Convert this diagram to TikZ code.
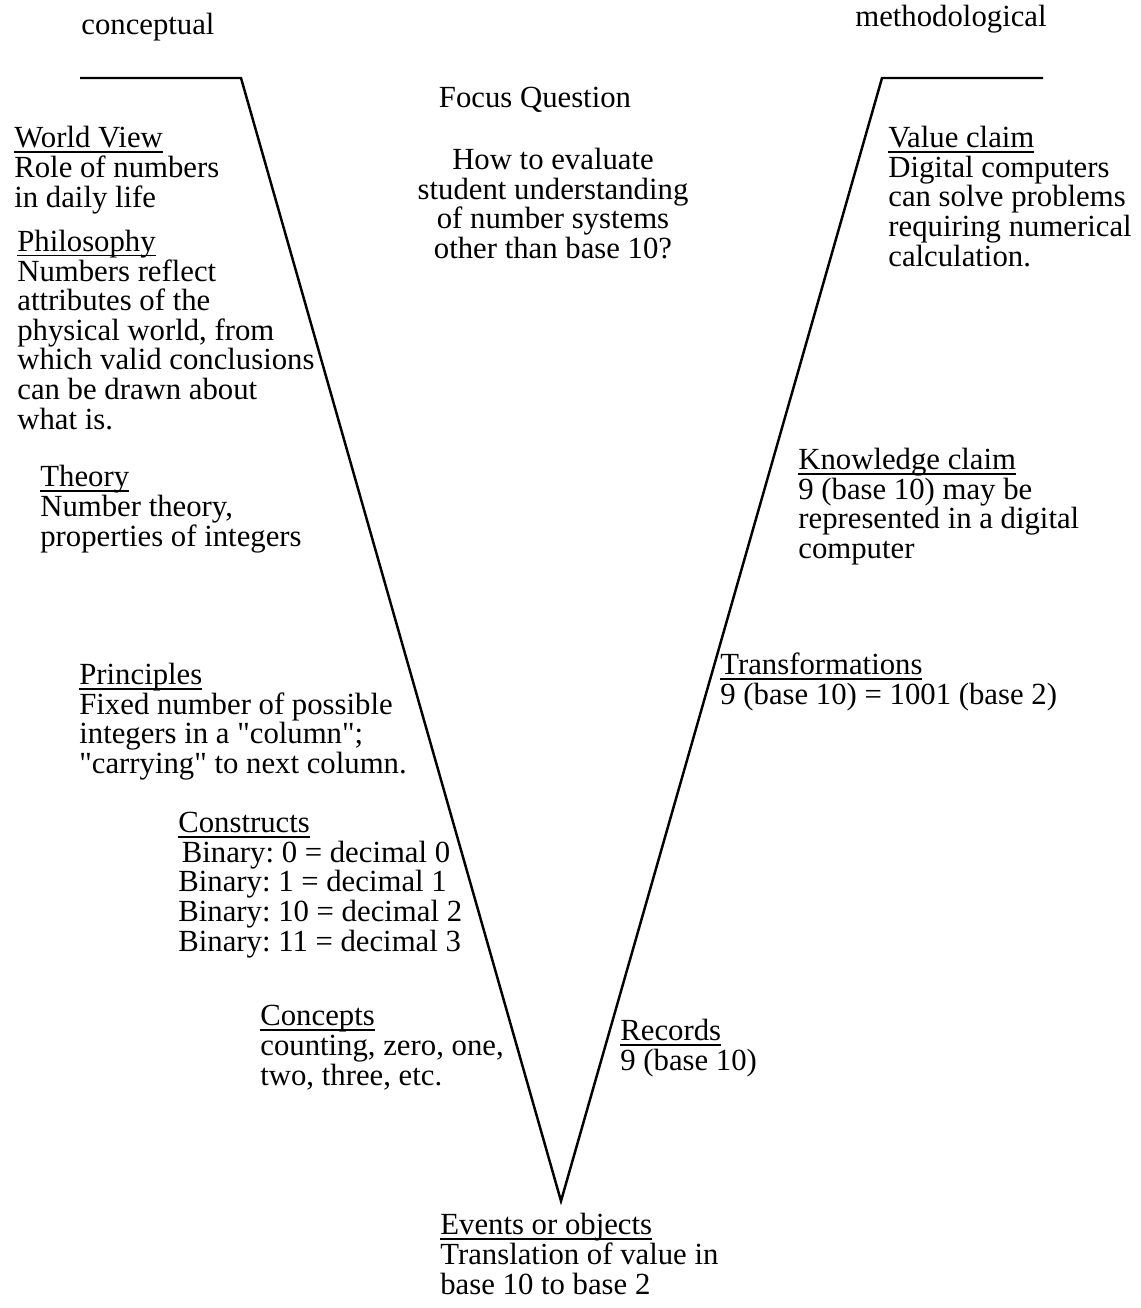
\documentclass[tikz,border=0pt]{standalone}
\usepackage{fontspec}
\setmainfont{Liberation Serif}
\usetikzlibrary{positioning}
\frenchspacing
\newcommand{\vtitle}[1]{\setbox0=\hbox{#1}\rlap{\rule[-2.6pt]{\wd0}{0.8pt}}\box0}
\newcommand{\qd}{\textquotedbl}
\tikzset{
  vtext/.style={inner sep=0pt, font=\fontsize{17.5}{16.8}\selectfont},
  vblock/.style={vtext, anchor=base west, align=left},
  vline/.style={line width=1.4pt, line join=miter}
}

\begin{document}
\begin{tikzpicture}[x=0.02cm, y=-0.02cm]
  \useasboundingbox (0,0) rectangle (1141,1308);
  % the V
  \coordinate (lt) at (80,78);
  \coordinate (la) at (241,78);
  \coordinate (vx) at (561,1201);
  \coordinate (ra) at (882,78);
  \coordinate (rt) at (1043,78);
  \draw[vline] (lt) -- (la) -- (vx) -- (ra) -- (rt);
  % headings (multi-line blocks sit on their last baseline)
  \node[vtext, anchor=base west] (cl) at (81,35) {conceptual};
  \node[vtext, anchor=base west] (ml) at (855,27) {methodological};
  \node[vtext, anchor=base] (fq) at (535,108) {Focus Question};
  \node[vtext, anchor=base, align=center] (qq) at (553,258.5)
    {How to evaluate\\student understanding\\of number systems\\other than base 10?};
  % left side
  \node[vblock] (wv) at (14,207) {\vtitle{World View}\\Role of numbers\\in daily life};
  \node[vblock] (ph) at (17,429) {\vtitle{Philosophy}\\Numbers reflect\\attributes of the\\physical world, from\\which valid conclusions\\can be drawn about\\what is.};
  \node[vblock] (th) at (40,546) {\vtitle{Theory}\\Number theory,\\properties of integers};
  \node[vblock] (pr) at (79,773.5) {\vtitle{Principles}\\Fixed number of possible\\integers in a \qd column\qd;\\\qd carrying\qd{} to next column.};
  \node[vblock] (cs) at (178,951) {\vtitle{Constructs}\\\hspace{2pt}Binary: 0 = decimal 0\\Binary: 1 = decimal 1\\Binary: 10 = decimal 2\\Binary: 11 = decimal 3};
  \node[vblock] (cp) at (260,1085) {\vtitle{Concepts}\\counting, zero, one,\\two, three, etc.};
  % bottom
  \node[vblock] (ev) at (440,1294) {\vtitle{Events or objects}\\Translation of value in\\base 10 to base 2};
  % right side
  \node[vblock] (vc) at (888,266) {\vtitle{Value claim}\\Digital computers\\can solve problems\\requiring numerical\\calculation.};
  \node[vblock] (kc) at (798,558.5) {\vtitle{Knowledge claim}\\9 (base 10) may be\\represented in a digital\\computer};
  \node[vblock] (tf) at (720,704.5) {\vtitle{Transformations}\\9 (base 10) = 1001 (base 2)};
  \node[vblock] (rc) at (620,1070.5) {\vtitle{Records}\\9 (base 10)};
\end{tikzpicture}
\end{document}
